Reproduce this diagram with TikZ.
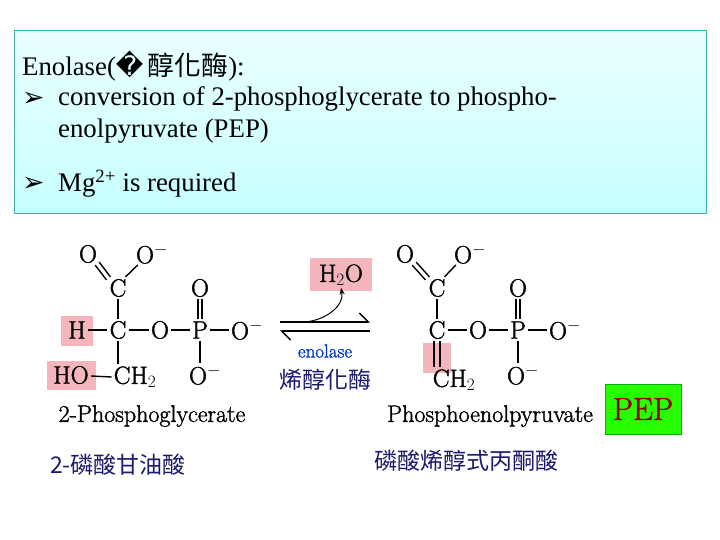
\documentclass[tikz,border=0pt]{standalone}
\usepackage{fontspec}
\setmainfont{Liberation Serif}
\newfontfamily\cjkf{Noto Sans CJK TC}
\newfontfamily\djf{DejaVu Sans}
\newfontfamily\lmf[FakeBold=1.5]{Latin Modern Roman}
\usetikzlibrary{arrows.meta}
\definecolor{pinkhl}{HTML}{F4B6BC}
\definecolor{navy}{HTML}{1A1A6E}
\definecolor{teal1}{HTML}{3CB4A8}
\begin{document}
\begin{tikzpicture}[x=1pt,y=-1pt,
  ch/.style={font=\lmf\fontsize{25}{25}\selectfont, inner sep=2pt},
  lbl/.style={font=\lmf\fontsize{24}{24}\selectfont, inner sep=0pt},
  zh/.style={font=\cjkf\fontsize{23}{23}\selectfont, text=navy, inner sep=0pt},
  bond/.style={line width=1.4pt},
  hl/.style={fill=pinkhl, draw=none},
  bt/.style={font=\fontsize{26.8}{26.8}\selectfont, anchor=west, inner sep=0pt}]
\useasboundingbox (0,0) rectangle (720,540);
\fill[white] (0,0) rectangle (720,540);
% top box
\shade[top color=cyan!8, bottom color=cyan!22] (14,30) rectangle (706,213);
\draw[teal1, line width=0.8pt] (14,30) rectangle (706,213);
\node[bt] (t0) at (22,66) {Enolase({\djf �}\,{\cjkf 醇化酶}):};
\node[bt] (b1) at (22,99) {{\djf ➢}};
\node[bt] (t1) at (58,99) {conversion of 2-phosphoglycerate to phospho-};
\node[bt] (t2) at (58,131) {enolpyruvate (PEP)};
\node[bt] (b2) at (22,184) {{\djf ➢}};
\node[bt] (t3) at (58,184) {Mg\textsuperscript{2+} is required};
% highlights
\fill[hl] (61,316) rectangle (93,346);
\fill[hl] (47,361) rectangle (96,390);
\fill[hl] (310,258) rectangle (372,291);
\fill[hl] (423,343) rectangle (451,373);
% left molecule
\node[ch] (lO1) at (88,254) {O};
\node[ch] (lO2) at (152,254) {O$^{-}$};
\node[ch] (lC1) at (118,288) {C};
\node[ch] (lH) at (77,330) {H};
\node[ch] (lC2) at (118,330) {C};
\node[ch] (lO3) at (160,330) {O};
\node[ch] (lP) at (200,330) {P};
\node[ch] (lO4) at (247,330) {O$^{-}$};
\node[ch] (lO5) at (200,288) {O};
\node[ch] (lO6) at (205,375) {O$^{-}$};
\node[ch] (lHO) at (71,375) {HO};
\node[ch] (lCH) at (135,377) {CH$_2$};
\draw[bond] ([shift={(-4,0)}]lO1.south east) -- ([shift={(-1,3)}]lC1.north west);
\draw[bond] ([shift={(0,-3)}]lO1.south east) -- ([shift={(3,0)}]lC1.north west);
\draw[bond] ([shift={(4,-1)}]lO2.south west) -- ([xshift=-3]lC1.north east);
\draw[bond] (lC1) -- (lC2);
\draw[bond] (lH) -- (lC2);
\draw[bond] (lC2) -- (lO3);
\draw[bond] (lO3) -- (lP);
\draw[bond] (lP) -- (lO4.west);
\draw[bond] ([xshift=-2]lP.north) -- ([xshift=-2]lO5.south);
\draw[bond] ([xshift=2]lP.north) -- ([xshift=2]lO5.south);
\draw[bond] (lP) -- (lO6.north -| lP);
\draw[bond] (lC2) -- (lC2 |- lCH.north);
\draw[bond] (lHO) -- (lCH.west);
\node[lbl] (ln) at (152,416) {2-Phosphoglycerate};
\node[zh] (lz) at (118,465) {2-磷酸甘油酸};
% arrows
\coordinate (a1) at (280,322); \coordinate (a2) at (370,322);
\coordinate (a3) at (370,331); \coordinate (a4) at (280,331);
\draw[line width=1.4pt, -{Straight Barb[left,length=9pt]}] (a1) -- (a2);
\draw[line width=1.4pt, -{Straight Barb[left,length=9pt]}] (a3) -- (a4);
\node[ch] (h2o) at (341,275) {H$_2$O};
\coordinate (cs) at (305,322);
\draw[line width=1pt, -{Stealth[length=7pt]}] (cs) to[out=5, in=-80] (h2o.south);
\node[font=\lmf\fontsize{19}{19}\selectfont, text=blue!55!teal, inner sep=0pt] (enz) at (325,351) {enolase};
\node[zh] (ez) at (325,380) {烯醇化酶};
% right molecule
\node[ch] (rO1) at (405,254) {O};
\node[ch] (rO2) at (470,254) {O$^{-}$};
\node[ch] (rC1) at (437,288) {C};
\node[ch] (rC2) at (437,330) {C};
\node[ch] (rO3) at (478,330) {O};
\node[ch] (rP) at (518,330) {P};
\node[ch] (rO4) at (565,330) {O$^{-}$};
\node[ch] (rO5) at (518,288) {O};
\node[ch] (rO6) at (523,375) {O$^{-}$};
\node[ch] (rCH) at (454,380) {CH$_2$};
\draw[bond] ([shift={(-4,0)}]rO1.south east) -- ([shift={(-1,3)}]rC1.north west);
\draw[bond] ([shift={(0,-3)}]rO1.south east) -- ([shift={(3,0)}]rC1.north west);
\draw[bond] ([shift={(4,-1)}]rO2.south west) -- ([xshift=-3]rC1.north east);
\draw[bond] (rC1) -- (rC2);
\draw[bond] (rC2) -- (rO3);
\draw[bond] (rO3) -- (rP);
\draw[bond] (rP) -- (rO4.west);
\draw[bond] ([xshift=-2]rP.north) -- ([xshift=-2]rO5.south);
\draw[bond] ([xshift=2]rP.north) -- ([xshift=2]rO5.south);
\draw[bond] (rP) -- (rO6.north -| rP);
\draw[bond] ([xshift=-3]rC2.south) -- ([xshift=-3]rC2.south |- rCH.north);
\draw[bond] ([xshift=3]rC2.south) -- ([xshift=3]rC2.south |- rCH.north);
\node[lbl] (rn) at (490,416) {Phosphoenolpyruvate};
\node[zh] (rz) at (466,461) {磷酸烯醇式丙酮酸};
\node[draw=green!70!black, fill=green!80!lime, minimum width=76pt, minimum height=50pt, inner sep=0pt, font=\lmf\fontsize{32}{32}\selectfont, text=red!60!black] (pep) at (643,409) {PEP};
\end{tikzpicture}
\end{document}
